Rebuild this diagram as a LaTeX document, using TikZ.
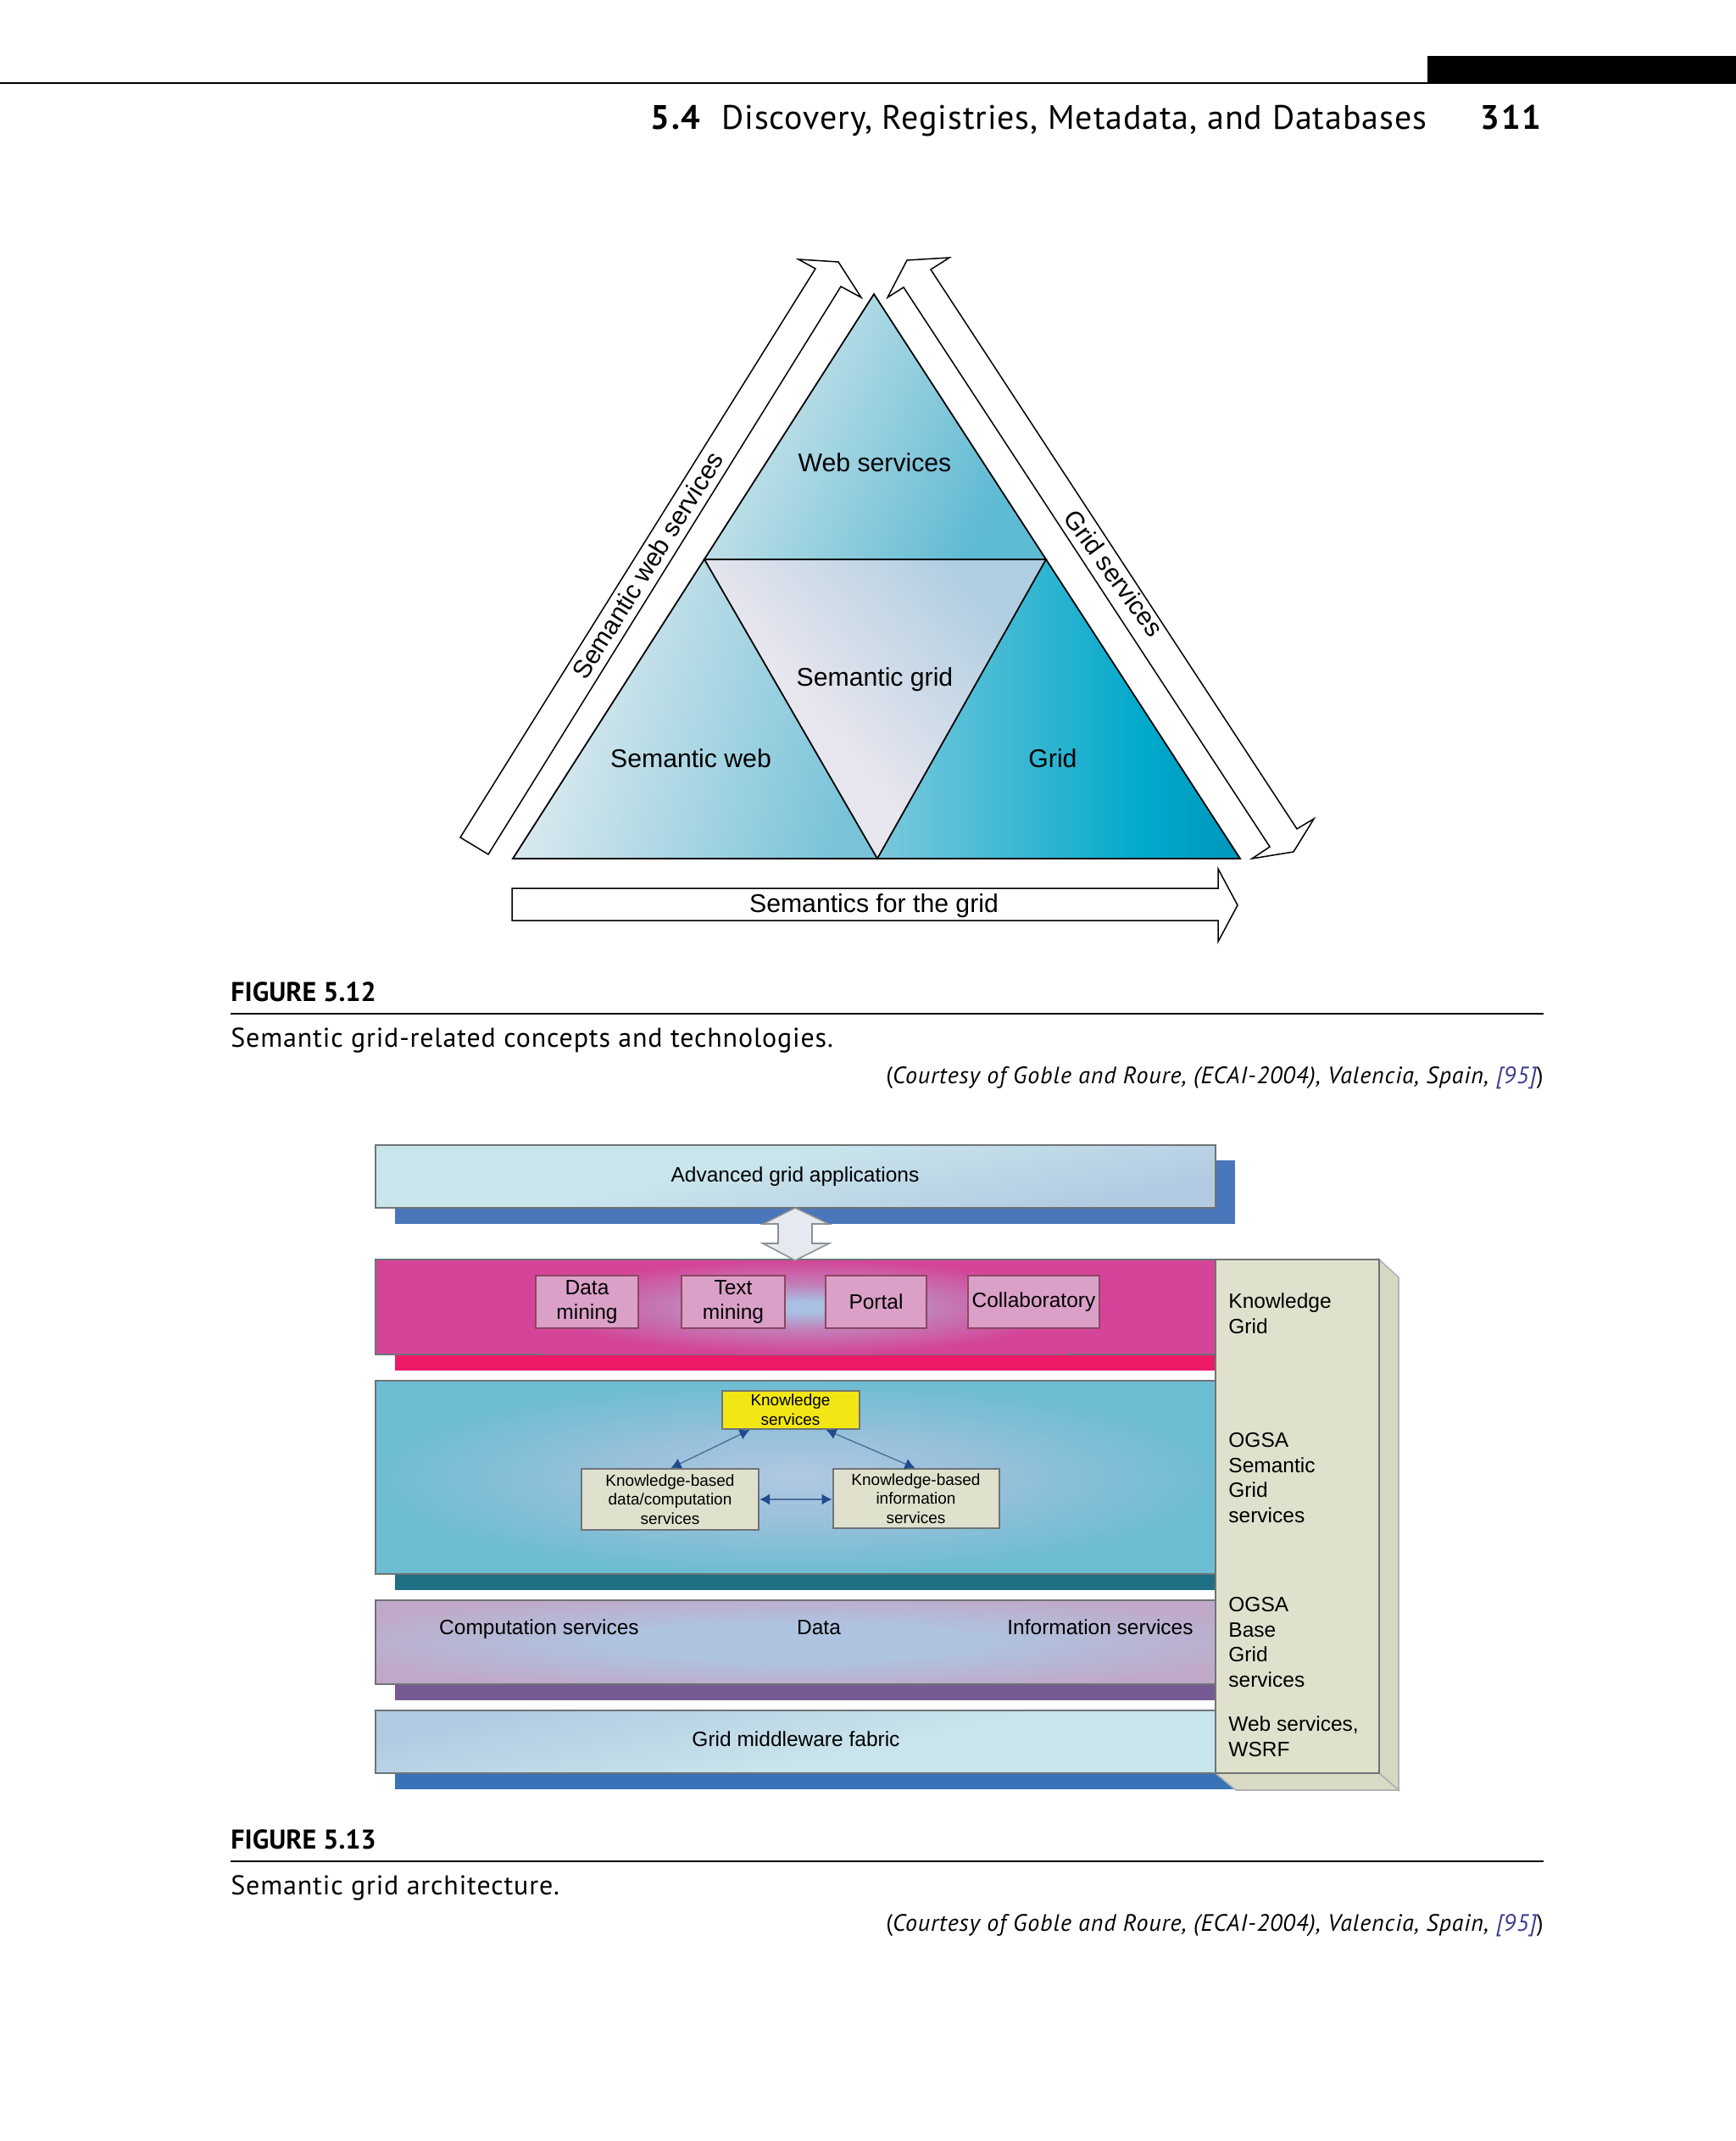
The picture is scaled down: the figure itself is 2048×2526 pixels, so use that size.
\documentclass[tikz,border=0pt]{standalone}
\usepackage{fontspec}
\setmainfont{Liberation Sans}
\newfontfamily\pagefont{PT Sans}
\newfontfamily\headfont[LetterSpace=2.3]{PT Sans}
\newfontfamily\numfont[LetterSpace=5]{PT Sans}
\newfontfamily\capfont[LetterSpace=2.6]{PT Sans}
\newfontfamily\srcfont[LetterSpace=3.1]{PT Sans}
\usetikzlibrary{arrows.meta,calc}
\definecolor{linkblue}{HTML}{3C3C8E}
\definecolor{colfront}{HTML}{DFE1CD}
\definecolor{colside}{HTML}{D5D9C2}
\definecolor{colbot}{HTML}{D9DBC7}
\definecolor{bandedge}{HTML}{6E7476}
\definecolor{arrowline}{HTML}{4A6F9C}
\definecolor{arrowhead}{HTML}{1F4A8C}
\definecolor{pinkfill}{HTML}{DBA0C8}
\definecolor{yellowfill}{HTML}{F2E714}
\definecolor{shadowblue}{HTML}{4A76BB}
\definecolor{shadowred}{HTML}{EE1A68}
\definecolor{shadowteal}{HTML}{1F6F85}
\definecolor{shadowpurple}{HTML}{765A94}
\definecolor{shadowfabric}{HTML}{3A72B8}
\definecolor{dblarrow}{HTML}{E6EAF0}
\definecolor{ta}{HTML}{C9E3EA}
\definecolor{tb}{HTML}{5FBAD3}
\definecolor{tc}{HTML}{DBE9EF}
\definecolor{td}{HTML}{78C3D8}
\definecolor{te}{HTML}{7CC8DC}
\definecolor{tf}{HTML}{00A9CB}
\definecolor{tg}{HTML}{0096BC}
\definecolor{th}{HTML}{E8E6EE}
\definecolor{ti}{HTML}{B0CEE1}
\definecolor{ga}{HTML}{A9C0E2}\definecolor{gb}{HTML}{C27FB8}\definecolor{gc}{HTML}{D4459A}
\definecolor{ua}{HTML}{B1C8E3}\definecolor{ub}{HTML}{96C0DA}\definecolor{uc}{HTML}{6DBDD3}
\definecolor{pa}{HTML}{AEC3DF}\definecolor{pb}{HTML}{C0A9C8}
\definecolor{la}{HTML}{C9E5EC}\definecolor{lb}{HTML}{B3CBE2}
\pgfdeclarehorizontalshading{triTop}{100bp}{color(0bp)=(ta);color(30bp)=(ta);color(72bp)=(tb);color(100bp)=(tb)}
\pgfdeclarehorizontalshading{triLeft}{100bp}{color(0bp)=(tc);color(30bp)=(tc);color(75bp)=(td);color(100bp)=(td)}
\pgfdeclarehorizontalshading{triRight}{100bp}{color(0bp)=(te);color(25bp)=(te);color(62bp)=(tf);color(75bp)=(tg);color(100bp)=(tg)}
\pgfdeclarehorizontalshading{triMid}{100bp}{color(0bp)=(th);color(42bp)=(th);color(74bp)=(ti);color(100bp)=(ti)}
\pgfdeclareradialshading{bandPink}{\pgfpoint{0bp}{0bp}}{color(0bp)=(ga);color(3bp)=(ga);color(12bp)=(gb);color(25bp)=(gc);color(50bp)=(gc)}
\pgfdeclareradialshading{bandTeal}{\pgfpoint{0bp}{0bp}}{color(0bp)=(ua);color(12bp)=(ub);color(25bp)=(uc);color(50bp)=(uc)}
\pgfdeclareradialshading{bandPurple}{\pgfpoint{0bp}{0bp}}{color(0bp)=(pa);color(11bp)=(pa);color(29bp)=(pb);color(50bp)=(pb)}
\pgfdeclarehorizontalshading{bandLight}{100bp}{color(0bp)=(la);color(44bp)=(la);color(72bp)=(lb);color(100bp)=(lb)}
\tikzset{
  x=0.5pt,y=-0.5pt,
  outline/.style={draw=black,line width=0.9pt,line join=miter},
  hollowarrow/.style={draw=black,fill=white,line width=0.75pt,line join=miter},
  trilabel/.style={font=\fontsize{15.1}{18}\selectfont,inner sep=0pt,anchor=base},
  rotlabel/.style={font=\fontsize{15.1}{18}\selectfont,inner sep=0pt},
  band/.style={draw=bandedge,line width=1pt},
  plain/.style={font=\fontsize{12.25}{14.8}\selectfont,inner sep=0pt,align=center},
  bandlabel/.style={plain,anchor=base},
  small/.style={font=\fontsize{9.5}{11.4}\selectfont,inner sep=0pt,align=center},
  collabel/.style={font=\fontsize{12.25}{14.8}\selectfont,inner sep=0pt,align=left,anchor=west},
  pinkbox/.style={plain,draw=bandedge!60!purple,line width=1pt,fill=pinkfill},
  kbox/.style={small,draw=bandedge,line width=1pt,fill=colfront},
  yellowbox/.style={small,draw=bandedge,line width=1pt,fill=yellowfill},
  link/.style={draw=arrowline,line width=0.7pt,{Latex[length=6pt,width=6.5pt,color=arrowhead]}-{Latex[length=6pt,width=6.5pt,color=arrowhead]}},
  pagehead/.style={font=\headfont\fontsize{20}{24}\selectfont,inner sep=0pt,anchor=base west},
  pagenum/.style={font=\numfont\bfseries\fontsize{20}{24}\selectfont,inner sep=0pt,anchor=base west},
  figlabel/.style={font=\pagefont\bfseries\fontsize{16}{19}\selectfont,inner sep=0pt,anchor=base west},
  captiontext/.style={font=\capfont\fontsize{16}{19}\selectfont,inner sep=0pt,anchor=base west},
  courtesy/.style={font=\srcfont\itshape\fontsize{14}{16}\selectfont,inner sep=0pt,anchor=base east},
}
\begin{document}
\begin{tikzpicture}
\useasboundingbox (0,0) rectangle (2048,2526);
\fill[white] (0,0) rectangle (2048,2526);
% page head
\fill[black] (1684,66) rectangle (2048,99);
\fill[black] (0,97) rectangle (1684,99.5);
\node[pagenum] (secno) at (767,152) {5.4};
\node[pagehead] (sectitle) at (851,152) {Discovery, Registries, Metadata, and Databases};
\node[pagenum] (pageno) at (1746,152) {311};
% Figure 5.12 triangles
\path[shading=triTop,shading angle=-25] (1031,347) -- (831,660) -- (1234,660) -- cycle;
\path[shading=triLeft,shading angle=-15] (831,660) -- (605,1013) -- (1035,1013) -- cycle;
\path[shading=triRight] (1234,660) -- (1035,1013) -- (1463,1013) -- cycle;
\path[shading=triMid,shading angle=40] (831,660) -- (1234,660) -- (1035,1013) -- cycle;
\draw[outline] (1031,347) -- (605,1013) -- (1463,1013) -- cycle;
\draw[outline] (831,660) -- (1234,660) -- (1035,1013) -- cycle;
% hollow arrows
\draw[hollowarrow] (543,988) -- (962,317) -- (942,306) -- (989,309) -- (1016,351) -- (992,338) -- (576,1008) -- cycle;
\draw[hollowarrow] (1098,318) -- (1120,304) -- (1070,307) -- (1047,351) -- (1066,339) -- (1498,999) -- (1477,1013) -- (1526,1005) -- (1550,966) -- (1530,978) -- cycle;
\draw[hollowarrow] (604,1048) -- (1437,1048) -- (1437,1025) -- (1460,1068) -- (1437,1111) -- (1437,1086) -- (604,1086) -- cycle;
\node[trilabel] (webserv) at (1032,556) {Web services};
\node[trilabel] (semgrid) at (1032,809) {Semantic grid};
\node[trilabel] (semweb) at (815,905) {Semantic web};
\node[trilabel] (grid) at (1242,905) {Grid};
\node[trilabel] (semforgrid) at (1031,1076) {Semantics for the grid};
\node[rotlabel,rotate=58] (semwebserv) at (764,667) {Semantic web services};
\node[rotlabel,rotate=-54] (gridserv) at (1314,676) {Grid services};
% Figure 5.12 caption
\node[figlabel] (fig12) at (272,1181) {FIGURE 5.12};
\fill[black] (272,1195) rectangle (1821,1197);
\node[captiontext] (cap12) at (272,1235) {Semantic grid-related concepts and technologies.};
\node[courtesy] (src12) at (1821,1278) {{\upshape(}Courtesy of Goble and Roure, (ECAI-2004), Valencia, Spain, \textcolor{linkblue}{[95]}{\upshape)}};
% Figure 5.13 shadows
\fill[shadowblue] (466,1369) rectangle (1457,1444);
\fill[shadowred] (466,1598) rectangle (1434,1617);
\fill[shadowteal] (466,1857) rectangle (1434,1876);
\fill[shadowpurple] (466,1987) rectangle (1434,2006);
\fill[shadowfabric] (466,2092) rectangle (1458,2111);
% bands
\path[band,shading=bandLight,shading angle=-78] (443,1351) rectangle (1434,1425);
\path[band,fill=gc] (443,1486) rectangle (1434,1598);
\path[shading=bandPink] (640,1487) rectangle (1260,1597);
\path[band,shading=bandTeal] (443,1629) rectangle (1434,1857);
\path[band,shading=bandPurple] (443,1888) rectangle (1434,1987);
\path[band,shading=bandLight,shading angle=102] (443,2018) rectangle (1434,2092);
% double arrow
\draw[draw=bandedge!80,fill=dblarrow,line width=0.8pt,line join=miter] (938,1425) -- (978,1444) -- (958,1444) -- (958,1467) -- (978,1467) -- (938,1487) -- (900,1467) -- (918,1467) -- (918,1444) -- (900,1444) -- cycle;
% column
\filldraw[fill=colside,draw=bandedge!55,line width=0.8pt] (1627,1486) -- (1650,1507) -- (1650,2112) -- (1627,2092) -- cycle;
\filldraw[fill=colbot,draw=bandedge!55,line width=0.8pt] (1434,2092) -- (1627,2092) -- (1650,2112) -- (1458,2112) -- cycle;
\filldraw[fill=colfront,draw=bandedge,line width=1pt] (1434,1486) -- (1627,1486) -- (1627,2092) -- (1434,2092) -- cycle;
% texts
\node[bandlabel] (adv) at (938,1394) {Advanced grid applications};
\node[pinkbox,minimum width=60.5pt,minimum height=31pt] (dm) at (692.5,1536) {Data\\mining};
\node[pinkbox,minimum width=61pt,minimum height=31pt] (tm) at (865,1536) {Text\\mining};
\node[pinkbox,minimum width=59.5pt,minimum height=31pt] (po) at (1033.5,1536) {Portal};
\node[pinkbox,minimum width=77.5pt,minimum height=31pt] (co) at (1219.5,1536) {Collaboratory};
\node[yellowbox,minimum width=81pt,minimum height=22.5pt] (ks) at (932.5,1663.5) {Knowledge\\services};
\node[kbox,minimum width=104.5pt,minimum height=36pt] (kd) at (790.5,1769) {Knowledge-based\\data/computation\\services};
\node[kbox,minimum width=98pt,minimum height=35pt] (ki) at (1080.5,1768) {Knowledge-based\\information\\services};
\draw[link] ([xshift=-24pt]ks.south) -- ([xshift=0.5pt]kd.north);
\draw[link] ([xshift=21pt]ks.south) -- ([xshift=-0.5pt]ki.north);
\draw[link] (kd.east) -- (kd.east -| ki.west);
\node[bandlabel] (comp) at (636,1928) {Computation services};
\node[bandlabel] (dataserv) at (966,1928) {Data};
\node[bandlabel] (infoserv) at (1298,1928) {Information services};
\node[bandlabel] (fabric) at (939,2060) {Grid middleware fabric};
\node[collabel] (c1) at (1449,1550) {Knowledge\\Grid};
\node[collabel] (c2) at (1449,1743.5) {OGSA\\Semantic\\Grid\\services};
\node[collabel] (c3) at (1449,1937.5) {OGSA\\Base\\Grid\\services};
\node[collabel] (c4) at (1449,2048.5) {Web services,\\WSRF};
% Figure 5.13 caption
\node[figlabel] (fig13) at (272,2181) {FIGURE 5.13};
\fill[black] (272,2195) rectangle (1821,2197);
\node[captiontext] (cap13) at (272,2235) {Semantic grid architecture.};
\node[courtesy] (src13) at (1821,2278) {{\upshape(}Courtesy of Goble and Roure, (ECAI-2004), Valencia, Spain, \textcolor{linkblue}{[95]}{\upshape)}};
\end{tikzpicture}
\end{document}
